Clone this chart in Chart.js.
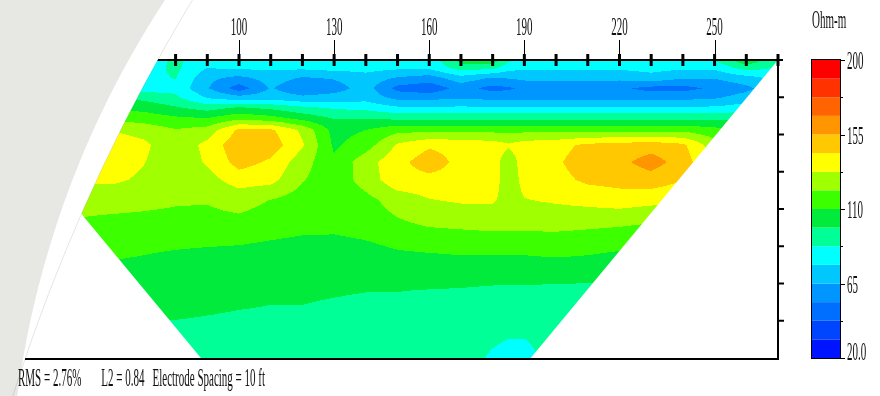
<!DOCTYPE html>
<html>
<head>
<meta charset="utf-8">
<script src="https://cdn.jsdelivr.net/npm/chart.js@4.4.1/dist/chart.umd.min.js"></script>
<style>
  html, body { margin: 0; padding: 0; background: #fff; }
  canvas { display: block; }
</style>
</head>
<body>
<canvas id="section" width="880" height="396"></canvas>
<script>
// Electrode positions along the line (ft)
const electrodes = [10,20,30,40,50,60,70,80,90,100,110,120,130,140,150,160,170,180,190,200,210,220,230,240,250,260,270];
const positionLabels = [100,130,160,190,220,250];
const depthTicks = [5,10,15,20,25,30,35];

// Inverted model: node positions (ft), node depths (ft), resistivity (ohm-m), one row per depth
const modelX = [10,20,30,40,50,60,70,80,90,100,110,120,130,140,150,160,170,180,185,190,200,210,220,230,240,250,260,270];
const depths = [0, 1.1, 2.4, 3.8, 5.1, 6.4, 7.8, 9.4, 11.4, 13.7, 16.1, 18.8, 22.2, 26.2, 30.9, 35.6, 40];
const resistivity = [
  [82,82,82,82,82,82,80,90,80,84,84,84,84,84,84,80,104,106,90,84,84,84,84,84,84,88,108,90],
  [82,82,82,82,82,82,82,90,76,78,78,78,80,80,78,78,92,90,80,78,78,78,78,80,78,78,92,86],
  [84,84,84,84,84,84,84,88,68,62,70,64,66,72,64,60,72,64,66,68,68,68,68,72,66,66,72,80],
  [84,84,84,84,84,84,82,84,66,48,66,56,60,70,50,46,58,50,52,56,58,58,56,50,50,56,62,74],
  [98,98,98,98,98,98,96,90,76,70,72,68,70,72,62,62,64,62,62,62,62,62,62,62,62,64,70,80],
  [110,110,110,110,110,108,106,100,94,100,96,90,86,84,78,78,78,78,78,78,78,78,78,78,78,78,82,88],
  [120,120,120,120,120,118,116,112,110,118,114,106,98,98,96,96,96,96,96,96,96,96,96,96,96,96,96,100],
  [132,132,132,132,132,132,128,122,126,146,146,130,106,110,118,118,118,118,118,118,118,118,118,118,118,114,108,108],
  [136,136,136,136,138,140,135,124,136,152,150,134,108,116,134,142,140,138,134,138,140,146,148,150,146,126,120,115],
  [136,136,136,136,138,140,133,124,134,148,142,126,112,128,140,150,140,138,126,138,142,150,152,160,150,130,122,118],
  [134,134,134,134,134,135,130,124,128,138,136,122,114,126,140,140,140,138,126,136,140,146,148,150,144,132,124,120],
  [124,124,124,124,124,124,123,122,122,125,121,116,112,118,126,132,134,134,128,132,134,136,138,136,134,128,122,118],
  [120,120,120,120,120,119,119,119,118,118,116,114,113,115,119,122,123,124,124,124,124,123,122,120,118,116,114,112],
  [112,112,112,112,112,111,110,108,107,106,104,102,103,105,108,109,110,110,110,110,111,110,108,106,104,102,100,100],
  [104,104,104,104,104,104,104,103,102,101,100,100,99.5,99,99,98.5,98,97,97,97,96,96,95,95,95,95,95,95],
  [98,98,98,98,98,98,98,98,97.5,97,97,97,96,95,94,93,92,91,90,90,91,92,92,92,92,92,92,92],
  [95,95,95,95,95,95,95,95,95,95,95,94,93,92,91,91,92,86,84,84,92,92,92,92,92,92,92,92]
];

// Section outline: extent at the surface and at the deepest layer (ft)
const sectionTop = [10, 270];
const sectionBottom = [88, 192];

// Colour scale
const contourLevels = [20,31.25,42.5,53.75,65,76.25,87.5,98.75,110,121.25,132.5,143.75,155,166.25,177.5,188.75,200];
const bandColors = ['#0014ff','#0046ff','#006eff','#0096ff','#00c8ff','#00ffff','#00ff96','#00eb3c',
                    '#3cff00','#a0ff00','#ffff00','#ffc800','#ff9600','#ff6400','#ff3200','#ff0000'];
const colorbarValues = [20, 65, 110, 155, 200];
const colorbarText = ['20.0', '65', '110', '155', '200'];
const statsText = ['RMS = 2.76%', 'L2 = 0.84', 'Electrode Spacing = 10 ft'];

const SERIF = '"Liberation Serif", "Times New Roman", serif';

function narrowText(ctx, text, x, y, size, align) {
  ctx.save();
  ctx.font = size + 'px ' + SERIF;
  ctx.fillStyle = '#111';
  ctx.textAlign = align || 'left';
  ctx.textBaseline = 'alphabetic';
  ctx.translate(x, y);
  ctx.scale(0.44, 1);
  ctx.fillText(text, 0, 0);
  const w = ctx.measureText(text).width * 0.44;
  ctx.restore();
  return w;
}

function locate(arr, v) {
  let i = 0;
  while (i < arr.length - 2 && arr[i + 1] < v) i++;
  const t = (v - arr[i]) / (arr[i + 1] - arr[i]);
  return [i, Math.max(0, Math.min(1, t))];
}

function bandOf(val) {
  let k = 0;
  while (k < bandColors.length - 1 && val >= contourLevels[k + 1]) k++;
  return k;
}

function hexRgb(h) {
  return [parseInt(h.slice(1, 3), 16), parseInt(h.slice(3, 5), 16), parseInt(h.slice(5, 7), 16)];
}

function sectionPath(ctx, x, y) {
  ctx.beginPath();
  ctx.moveTo(x.getPixelForValue(sectionTop[0]), y.getPixelForValue(depths[0]));
  ctx.lineTo(x.getPixelForValue(sectionTop[1]), y.getPixelForValue(depths[0]));
  ctx.lineTo(x.getPixelForValue(sectionBottom[1]), y.getPixelForValue(depths[depths.length - 1]));
  ctx.lineTo(x.getPixelForValue(sectionBottom[0]), y.getPixelForValue(depths[depths.length - 1]));
  ctx.closePath();
}

const sectionPlugin = {
  id: 'resistivitySection',
  beforeDatasetsDraw(chart) {
    const { ctx, chartArea: a, scales: { x, y } } = chart;
    const w = Math.round(a.right - a.left), h = Math.round(a.bottom - a.top);
    const off = document.createElement('canvas');
    off.width = w; off.height = h;
    const octx = off.getContext('2d');
    const img = octx.createImageData(w, h);
    const rgb = bandColors.map(hexRgb);
    const cols = [];
    for (let i = 0; i < w; i++) cols.push(locate(modelX, x.getValueForPixel(a.left + i + 0.5)));
    for (let j = 0; j < h; j++) {
      const [r, ty] = locate(depths, y.getValueForPixel(a.top + j + 0.5));
      const r0 = resistivity[r], r1 = resistivity[r + 1];
      for (let i = 0; i < w; i++) {
        const [c, tx] = cols[i];
        const top = r0[c] * (1 - tx) + r0[c + 1] * tx;
        const bot = r1[c] * (1 - tx) + r1[c + 1] * tx;
        const col = rgb[bandOf(top * (1 - ty) + bot * ty)];
        const p = (j * w + i) * 4;
        img.data[p] = col[0]; img.data[p + 1] = col[1]; img.data[p + 2] = col[2]; img.data[p + 3] = 255;
      }
    }
    octx.putImageData(img, 0, 0);
    ctx.save();
    sectionPath(ctx, x, y);
    ctx.clip();
    ctx.drawImage(off, a.left, a.top);
    ctx.restore();
  },
  afterDatasetsDraw(chart) {
    const { ctx, chartArea: a, scales: { x, y } } = chart;
    ctx.save();
    ctx.strokeStyle = '#000';
    // electrode line (surface)
    ctx.lineWidth = 2;
    ctx.beginPath();
    ctx.moveTo(a.left, a.top); ctx.lineTo(a.right + 5, a.top);
    ctx.stroke();
    // connectors from the labelled electrodes up to their labels
    ctx.lineWidth = 1;
    positionLabels.forEach(v => {
      const px = Math.round(x.getPixelForValue(v)) + 0.5;
      ctx.beginPath(); ctx.moveTo(px, 40); ctx.lineTo(px, a.top - 5); ctx.stroke();
    });
    // depth axis on the right
    ctx.lineWidth = 2;
    ctx.beginPath(); ctx.moveTo(a.right, a.top); ctx.lineTo(a.right, a.bottom + 1); ctx.stroke();
    depthTicks.forEach(d => {
      const py = y.getPixelForValue(d);
      ctx.beginPath(); ctx.moveTo(a.right, py); ctx.lineTo(a.right + 6, py); ctx.stroke();
    });
    // base line
    ctx.beginPath(); ctx.moveTo(a.left, a.bottom + 1); ctx.lineTo(a.right + 1, a.bottom + 1); ctx.stroke();
    ctx.restore();
  },
  afterDraw(chart) {
    const { ctx, chartArea: a, scales: { x, yColor } } = chart;
    const W = chart.width, H = chart.height;
    // page backdrop on the left
    ctx.save();
    ctx.beginPath();
    ctx.rect(0, 0, W, H);
    ctx.moveTo(1771 + 1845, 955);
    ctx.arc(1771, 955, 1845, 0, Math.PI * 2);
    ctx.fillStyle = '#ffffff';
    ctx.fill('evenodd');
    ctx.beginPath();
    ctx.rect(0, 0, W, H);
    ctx.moveTo(958.8 + 950, 521.9);
    ctx.arc(958.8, 521.9, 950, 0, Math.PI * 2);
    ctx.fillStyle = '#e7e7e3';
    ctx.fill('evenodd');
    ctx.beginPath();
    ctx.arc(1771, 955, 1845, Math.PI, 1.25 * Math.PI);
    ctx.strokeStyle = 'rgba(0,0,0,0.10)';
    ctx.lineWidth = 1;
    ctx.stroke();
    ctx.restore();

    // position labels
    positionLabels.forEach(v => narrowText(ctx, String(v), x.getPixelForValue(v), 35, 25, 'center'));

    // colour bar
    const barL = 812, barR = 840;
    ctx.save();
    for (let k = 0; k < bandColors.length; k++) {
      const y1 = yColor.getPixelForValue(contourLevels[k]);
      const y2 = yColor.getPixelForValue(contourLevels[k + 1]);
      ctx.fillStyle = bandColors[k];
      ctx.fillRect(barL, y2, barR - barL, y1 - y2);
    }
    ctx.strokeStyle = '#000';
    ctx.lineWidth = 1;
    ctx.strokeRect(barL - 0.5, yColor.getPixelForValue(200) - 0.5, barR - barL + 1, yColor.getPixelForValue(20) - yColor.getPixelForValue(200) + 1);
    for (let k = 0; k < contourLevels.length; k += 2) {
      const v = contourLevels[k];
      const py = Math.round(yColor.getPixelForValue(v)) + 0.5;
      const long = colorbarValues.includes(v);
      ctx.beginPath(); ctx.moveTo(barR, py); ctx.lineTo(barR + (long ? 5 : 3), py); ctx.stroke();
    }
    ctx.restore();
    colorbarValues.forEach((v, i) => {
      const py = yColor.getPixelForValue(v);
      narrowText(ctx, colorbarText[i], 847, Math.min(py + 9, a.bottom + 2), 25, 'left');
    });
    narrowText(ctx, 'Ohm-m', 812, 28, 25, 'left');

    // inversion statistics
    let tx = 18;
    const gaps = [20, 8];
    statsText.forEach((s, i) => {
      tx += narrowText(ctx, s, tx, 386, 25, 'left') + (gaps[i] || 0);
    });
  }
};

new Chart(document.getElementById('section'), {
  type: 'scatter',
  data: {
    datasets: [{
      label: 'Electrodes',
      data: electrodes.map(e => ({ x: e, y: 0 })),
      pointStyle: 'line',
      pointRotation: 90,
      pointRadius: 6,
      pointHoverRadius: 6,
      pointBorderWidth: 3,
      pointBorderColor: '#000',
      pointBackgroundColor: '#000',
      showLine: false,
      clip: false
    }]
  },
  options: {
    responsive: false,
    devicePixelRatio: 1,
    animation: false,
    events: [],
    layout: { padding: { left: 25, right: 102, top: 60, bottom: 38 } },
    plugins: { legend: { display: false }, tooltip: { enabled: false } },
    scales: {
      x: { type: 'linear', position: 'top', min: 32.5, max: 270, display: false },
      y: { type: 'linear', min: 0, max: 40, reverse: true, display: false },
      yColor: { type: 'linear', axis: 'y', position: 'right', min: 20, max: 200, display: false }
    }
  },
  plugins: [sectionPlugin]
});
</script>
</body>
</html>
